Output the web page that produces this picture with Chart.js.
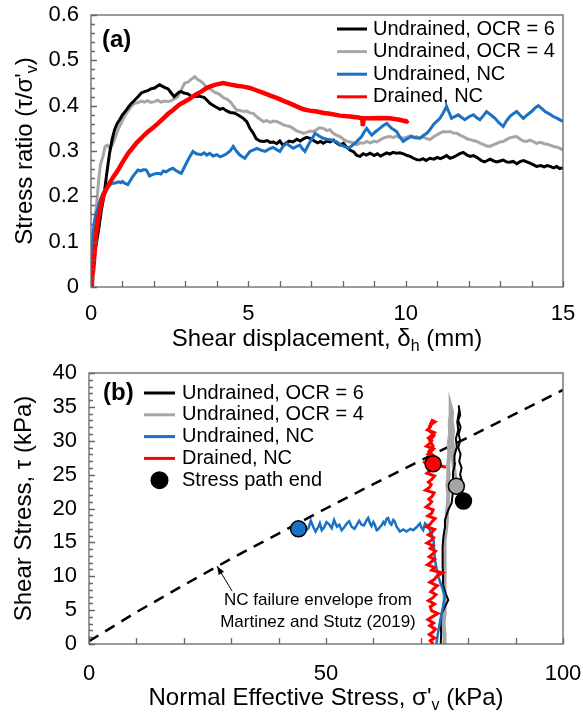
<!DOCTYPE html>
<html>
<head>
<meta charset="utf-8">
<script src="https://cdn.jsdelivr.net/npm/chart.js@4.4.0/dist/chart.umd.min.js"></script>
<style>
    html, body { margin: 0; padding: 0; background: #fff; }
    #wrap { position: relative; width: 583px; height: 713px; }
    .panel { position: absolute; left: 0; width: 583px; }
    #panelA { top: 0; height: 355px; }
    #panelB { top: 355px; height: 358px; }
</style>
</head>
<body>
<div id="wrap">
    <div class="panel" id="panelA"><canvas id="chartA"></canvas></div>
    <div class="panel" id="panelB"><canvas id="chartB"></canvas></div>
</div>
<script>
// ============================================
// (a) stress ratio vs shear displacement
// (b) stress paths, shear stress vs normal effective stress
// values
// ============================================

// --- panel (a): [displacement mm, tau/sigma'v] ---
const ocr6Curve = [[0,0],[0.05,0.04],[0.1,0.075],[0.17,0.096],[0.25,0.13],[0.33,0.17],[0.41,0.2],[0.5,0.25],[0.59,0.295],[0.67,0.325],[0.75,0.347],[0.83,0.36],[0.91,0.369],[1.0,0.38],[1.12,0.39],[1.2,0.398],[1.28,0.405],[1.4,0.413],[1.5,0.42],[1.6,0.428],[1.7,0.431],[1.8,0.433],[1.9,0.437],[2.02,0.439],[2.1,0.443],[2.18,0.446],[2.26,0.443],[2.35,0.44],[2.45,0.437],[2.55,0.428],[2.64,0.42],[2.72,0.425],[2.8,0.43],[2.87,0.431],[2.95,0.428],[3.08,0.426],[3.2,0.42],[3.3,0.42],[3.45,0.421],[3.6,0.418],[3.78,0.405],[3.9,0.4],[4.0,0.396],[4.1,0.392],[4.2,0.394],[4.3,0.389],[4.42,0.385],[4.55,0.384],[4.63,0.381],[4.75,0.376],[4.84,0.372],[4.95,0.365],[5.05,0.35],[5.15,0.34],[5.25,0.327],[5.37,0.322],[5.5,0.321],[5.6,0.323],[5.69,0.319],[5.8,0.32],[5.9,0.316],[6.0,0.322],[6.11,0.312],[6.2,0.318],[6.3,0.322],[6.42,0.32],[6.54,0.326],[6.65,0.322],[6.75,0.327],[6.85,0.33],[6.96,0.328],[7.1,0.322],[7.2,0.318],[7.3,0.321],[7.38,0.317],[7.5,0.322],[7.6,0.32],[7.7,0.324],[7.8,0.318],[7.91,0.313],[8.02,0.317],[8.1,0.31],[8.23,0.302],[8.35,0.298],[8.45,0.29],[8.55,0.288],[8.65,0.294],[8.75,0.291],[8.87,0.295],[9.0,0.29],[9.1,0.294],[9.2,0.289],[9.29,0.292],[9.4,0.296],[9.5,0.293],[9.6,0.297],[9.71,0.295],[9.82,0.296],[9.95,0.293],[10.05,0.29],[10.14,0.288],[10.25,0.284],[10.35,0.281],[10.45,0.28],[10.55,0.283],[10.65,0.279],[10.77,0.284],[10.9,0.282],[11.0,0.286],[11.1,0.283],[11.2,0.286],[11.3,0.29],[11.41,0.284],[11.5,0.286],[11.62,0.29],[11.72,0.294],[11.83,0.297],[11.95,0.291],[12.05,0.288],[12.15,0.29],[12.26,0.286],[12.4,0.279],[12.5,0.276],[12.6,0.279],[12.68,0.282],[12.8,0.278],[12.9,0.276],[13.0,0.278],[13.1,0.28],[13.2,0.276],[13.3,0.275],[13.42,0.277],[13.53,0.272],[13.65,0.277],[13.75,0.279],[13.85,0.276],[13.95,0.273],[14.05,0.27],[14.16,0.266],[14.3,0.268],[14.4,0.265],[14.5,0.268],[14.59,0.266],[14.7,0.263],[14.8,0.266],[14.9,0.261],[15.0,0.263]];

const ocr4Curve = [[0,0],[0.04,0.05],[0.08,0.09],[0.1,0.111],[0.15,0.16],[0.2,0.2],[0.25,0.24],[0.3,0.27],[0.38,0.288],[0.45,0.31],[0.52,0.313],[0.58,0.308],[0.65,0.31],[0.72,0.32],[0.8,0.336],[0.86,0.347],[0.95,0.36],[1.05,0.375],[1.12,0.383],[1.2,0.39],[1.3,0.4],[1.39,0.405],[1.5,0.407],[1.6,0.41],[1.7,0.408],[1.8,0.411],[1.9,0.407],[2.02,0.409],[2.12,0.412],[2.22,0.408],[2.35,0.41],[2.45,0.409],[2.55,0.411],[2.65,0.415],[2.76,0.42],[2.85,0.432],[2.92,0.442],[2.98,0.45],[3.08,0.452],[3.18,0.458],[3.3,0.464],[3.38,0.458],[3.46,0.455],[3.56,0.45],[3.65,0.442],[3.72,0.44],[3.82,0.435],[3.92,0.43],[4.0,0.428],[4.1,0.424],[4.2,0.418],[4.3,0.415],[4.42,0.409],[4.52,0.4],[4.63,0.39],[4.72,0.39],[4.84,0.387],[4.95,0.388],[5.05,0.384],[5.16,0.383],[5.26,0.376],[5.37,0.37],[5.48,0.365],[5.58,0.367],[5.7,0.363],[5.8,0.366],[5.9,0.365],[6.0,0.362],[6.1,0.358],[6.2,0.356],[6.32,0.354],[6.42,0.35],[6.54,0.344],[6.65,0.342],[6.75,0.339],[6.85,0.341],[6.96,0.344],[7.06,0.343],[7.15,0.346],[7.25,0.351],[7.38,0.35],[7.5,0.345],[7.59,0.347],[7.7,0.339],[7.8,0.335],[7.91,0.332],[8.0,0.327],[8.1,0.322],[8.23,0.32],[8.35,0.318],[8.45,0.314],[8.55,0.318],[8.65,0.317],[8.77,0.321],[8.88,0.318],[9.0,0.322],[9.08,0.32],[9.2,0.325],[9.3,0.329],[9.4,0.331],[9.5,0.332],[9.6,0.33],[9.72,0.333],[9.82,0.329],[9.92,0.328],[10.05,0.331],[10.15,0.334],[10.25,0.33],[10.35,0.332],[10.45,0.328],[10.55,0.331],[10.65,0.328],[10.77,0.325],[10.88,0.331],[11.0,0.336],[11.1,0.34],[11.2,0.343],[11.3,0.342],[11.41,0.343],[11.5,0.34],[11.62,0.339],[11.72,0.335],[11.83,0.332],[11.95,0.327],[12.05,0.325],[12.15,0.323],[12.26,0.321],[12.38,0.317],[12.48,0.314],[12.58,0.311],[12.68,0.31],[12.8,0.314],[12.9,0.317],[13.0,0.32],[13.1,0.321],[13.2,0.325],[13.3,0.329],[13.42,0.331],[13.53,0.332],[13.62,0.327],[13.74,0.322],[13.85,0.321],[13.95,0.324],[14.05,0.321],[14.16,0.317],[14.28,0.319],[14.4,0.316],[14.5,0.315],[14.59,0.313],[14.7,0.31],[14.8,0.309],[14.9,0.306],[15.0,0.302]];

const ncUndrainedCurve = [[0,0],[0.03,0.06],[0.06,0.111],[0.1,0.14],[0.15,0.16],[0.2,0.17],[0.28,0.19],[0.38,0.207],[0.45,0.215],[0.55,0.222],[0.62,0.226],[0.7,0.229],[0.8,0.23],[0.88,0.232],[0.95,0.23],[1.0,0.233],[1.07,0.229],[1.17,0.226],[1.25,0.235],[1.33,0.244],[1.4,0.25],[1.49,0.258],[1.58,0.256],[1.68,0.259],[1.76,0.258],[1.86,0.245],[1.95,0.248],[2.05,0.25],[2.13,0.251],[2.22,0.249],[2.3,0.256],[2.39,0.254],[2.5,0.259],[2.6,0.262],[2.7,0.257],[2.8,0.253],[2.87,0.251],[2.95,0.262],[3.03,0.273],[3.12,0.285],[3.24,0.299],[3.35,0.294],[3.5,0.292],[3.6,0.296],[3.68,0.291],[3.77,0.295],[3.88,0.289],[4.0,0.292],[4.1,0.287],[4.2,0.29],[4.31,0.294],[4.42,0.3],[4.52,0.31],[4.62,0.3],[4.73,0.291],[4.82,0.287],[4.89,0.284],[4.97,0.292],[5.05,0.299],[5.15,0.302],[5.27,0.306],[5.4,0.302],[5.53,0.299],[5.65,0.304],[5.79,0.308],[5.9,0.303],[6.0,0.299],[6.1,0.31],[6.22,0.317],[6.32,0.311],[6.43,0.306],[6.54,0.31],[6.64,0.313],[6.72,0.305],[6.8,0.299],[6.88,0.31],[6.96,0.32],[7.05,0.33],[7.12,0.339],[7.25,0.333],[7.38,0.328],[7.5,0.326],[7.6,0.325],[7.72,0.322],[7.81,0.32],[7.95,0.313],[8.08,0.309],[8.18,0.306],[8.28,0.311],[8.39,0.317],[8.5,0.325],[8.6,0.332],[8.68,0.342],[8.76,0.35],[8.84,0.342],[8.92,0.335],[9.05,0.343],[9.18,0.35],[9.28,0.356],[9.4,0.361],[9.48,0.355],[9.55,0.35],[9.63,0.347],[9.71,0.343],[9.8,0.333],[9.92,0.321],[10.05,0.327],[10.19,0.332],[10.3,0.329],[10.45,0.328],[10.56,0.334],[10.67,0.339],[10.78,0.348],[10.88,0.358],[10.98,0.365],[11.09,0.372],[11.2,0.385],[11.3,0.398],[11.38,0.385],[11.46,0.372],[11.56,0.376],[11.67,0.38],[11.78,0.374],[11.88,0.369],[12.0,0.375],[12.15,0.38],[12.25,0.374],[12.36,0.369],[12.47,0.378],[12.57,0.387],[12.7,0.38],[12.84,0.372],[12.97,0.362],[13.1,0.354],[13.2,0.366],[13.31,0.376],[13.42,0.382],[13.53,0.387],[13.64,0.379],[13.74,0.372],[13.87,0.38],[14.0,0.387],[14.1,0.394],[14.21,0.4],[14.32,0.394],[14.43,0.387],[14.56,0.382],[14.69,0.376],[14.82,0.372],[14.92,0.368],[15.0,0.365]];

const drainedCurve = [[0,0],[0.03,0.02],[0.07,0.0375],[0.12,0.08],[0.17,0.12],[0.22,0.148],[0.3,0.175],[0.38,0.2],[0.48,0.215],[0.59,0.229],[0.72,0.244],[0.86,0.258],[1.0,0.275],[1.18,0.295],[1.3,0.305],[1.45,0.318],[1.65,0.332],[1.8,0.342],[1.95,0.35],[2.13,0.361],[2.3,0.372],[2.45,0.382],[2.6,0.39],[2.8,0.402],[3.08,0.413],[3.3,0.423],[3.5,0.431],[3.7,0.44],[3.93,0.446],[4.2,0.45],[4.4,0.447],[4.63,0.444],[4.85,0.442],[5.05,0.439],[5.25,0.434],[5.48,0.428],[5.7,0.422],[5.9,0.417],[6.1,0.411],[6.32,0.405],[6.55,0.398],[6.75,0.392],[6.95,0.389],[7.17,0.387],[7.4,0.384],[7.6,0.382],[7.91,0.378],[8.23,0.376],[8.5,0.374],[8.62,0.372],[8.64,0.355],[8.66,0.372],[8.87,0.372],[9.2,0.373],[9.5,0.372],[9.8,0.369],[10.03,0.365],[10.08,0.368]];

// --- panel (b): [sigma'v kPa, tau kPa] ---
const ocr6Path = [[74.2,0],[74.3,1.5],[74.2,3.0],[74.4,4.5],[75.1,5.5],[75.8,6.5],[75.2,7.5],[74.8,8.5],[74.7,10.0],[74.6,11.5],[74.6,13.0],[74.6,14.4],[74.8,16.0],[75.1,17.3],[75.1,18.3],[75.8,19.8],[76.5,20.8],[76.7,22.0],[76.9,24.2],[76.8,25.4],[77.2,26.6],[77.1,27.8],[77.6,29.1],[77.4,30.3],[77.9,31.6],[77.7,32.8],[78.1,34.5],[78.0,35.2],[78.3,33.8],[77.9,33.0],[78.4,32.0],[78.0,31.0],[78.3,30.0],[77.9,29.0],[78.4,28.0],[78.1,27.0],[78.6,26.0],[78.3,25.0],[78.7,24.0],[78.5,23.0],[79.0,22.0],[79.0,21.1]];

const ocr4Path = [[74.9,0],[75.0,1.5],[74.8,3.0],[75.0,4.5],[74.9,6.0],[74.9,7.5],[75.0,9.4],[75.1,11.0],[75.0,12.6],[75.1,14.0],[75.1,15.3],[75.3,16.8],[75.5,18.2],[75.5,19.3],[75.7,20.7],[75.8,22.2],[75.6,23.5],[75.9,25.0],[75.8,26.6],[76.0,28.0],[75.9,29.5],[76.2,31.1],[76.1,32.5],[76.3,33.8],[76.3,35.0],[76.6,34.2],[76.5,33.0],[76.8,31.5],[76.6,30.0],[76.9,28.5],[76.8,27.0],[77.1,25.5],[77.3,24.2],[77.5,23.3]];

const ncUndrainedPath = [[73.3,0],[73.6,1.5],[74.1,3.5],[74.6,5.2],[75.1,7.0],[74.4,8.5],[73.7,9.9],[73.3,11.2],[73.0,12.4],[72.8,14.0],[72.7,15.3],[72.3,16.2],[71.9,16.8],[71.2,17.6],[70.9,17.8],[70.5,16.8],[70.1,17.2],[69.8,17.8],[69.2,17.3],[68.4,16.8],[67.8,17.0],[67.0,16.6],[66.3,16.9],[65.6,16.6],[64.9,17.3],[64.5,18.1],[64.2,18.3],[63.8,17.6],[63.5,17.8],[63.1,18.6],[62.8,18.5],[62.4,17.7],[62.1,18.0],[61.7,17.5],[61.4,17.3],[61.0,16.9],[60.7,16.8],[60.3,17.6],[60.0,18.0],[59.6,17.4],[59.3,17.8],[58.9,18.6],[58.6,18.3],[58.0,17.5],[57.5,17.6],[57.0,18.2],[56.5,17.6],[56.0,17.0],[55.4,17.3],[54.9,18.1],[54.4,17.8],[53.8,17.2],[53.3,16.8],[52.8,17.6],[52.3,17.3],[51.7,18.3],[51.2,17.1],[50.6,17.7],[50.1,18.0],[49.6,17.2],[49.1,16.8],[48.7,17.8],[48.4,17.3],[47.8,16.6],[47.3,17.3],[46.8,18.2],[46.3,17.1],[45.7,16.7],[45.2,16.8],[44.6,17.4],[44.2,16.9]];

const drainedPath = [[72.6,0],[72.0,0.5],[72.9,0.9],[71.8,1.4],[72.6,1.8],[73.1,2.2],[71.9,2.7],[72.7,3.1],[71.5,3.6],[72.4,4.0],[73.6,4.5],[72.3,4.9],[72.0,5.5],[72.9,5.9],[71.6,6.4],[72.5,6.8],[73.2,7.3],[72.1,7.7],[72.8,8.2],[73.5,8.6],[71.9,9.1],[72.8,9.5],[73.4,10.0],[74.6,10.5],[72.3,10.9],[72.9,11.3],[71.4,11.7],[72.2,12.1],[72.9,12.5],[71.8,12.9],[72.5,13.3],[73.1,13.7],[72.0,14.1],[72.6,14.5],[71.3,14.9],[72.2,15.3],[72.7,15.7],[71.6,16.1],[72.4,16.5],[72.9,16.9],[71.2,17.3],[72.0,17.7],[72.4,18.1],[73.0,18.5],[71.5,18.9],[72.3,19.3],[72.6,19.8],[71.1,20.2],[71.8,20.6],[72.3,21.0],[71.7,21.4],[72.4,21.8],[72.8,22.3],[71.0,22.7],[71.8,23.1],[72.2,23.5],[71.6,23.9],[72.3,24.3],[72.9,24.8],[71.3,25.2],[72.0,25.6],[72.1,26.0],[71.4,26.4],[70.8,26.8],[71.9,27.2],[72.4,27.6],[71.5,28.0],[72.1,28.4],[72.7,28.8],[71.2,29.2],[71.9,29.6],[72.3,30.0],[71.6,30.4],[72.4,30.8],[72.9,31.2],[71.4,31.6],[72.0,32.0],[72.2,32.4],[73.0,32.8],[72.4,33.0],[72.0,32.4],[71.6,31.6],[72.8,30.8],[71.9,30.0],[72.6,29.2],[71.7,28.4],[72.9,27.7],[72.2,27.1],[73.5,26.4],[75.3,26.1],[72.7,26.6]];

// end of each stress path: blue, red, grey, black
const pathEnds = [[44.2,17.0],[72.6,26.6],[77.5,23.3],[79.0,21.1]];

// NC failure envelope (Martinez and Stutz 2019)
const ncEnvelope = [[0,0.4],[10,4.7],[20,8.7],[30,12.6],[40,16.3],[50,20.0],[60,23.6],[70,27.1],[80,30.5],[90,34.0],[100,37.5]];

// tick labels shown
const xLabelsA = [0, 5, 10, 15];
const xLabelsB = [0, 50, 100];

const FONT = 'Arial, "Liberation Sans", sans-serif';
const C_BLACK = '#000000';
const C_GREY = '#a6a6a6';
const C_BLUE = '#1a72c4';
const C_RED = '#ff0000';
const C_AXIS = '#666666';

const toXY = pts => pts.map(p => ({ x: p[0], y: p[1] }));

function lineSet(label, pts, color, width, order) {
    return {
        label: label,
        data: toXY(pts),
        showLine: true,
        borderColor: color,
        backgroundColor: color,
        borderWidth: width,
        pointRadius: 0,
        tension: 0,
        order: order
    };
}

// fixed axis box sizes so the plot area lands where the figure has it
function fixX(h) {
    return s => { s.height = h; s.paddingLeft = 0; s.paddingRight = 0; };
}
function fixY(w) {
    return s => { s.width = w; s.paddingTop = 0; s.paddingBottom = 0; };
}

// draw a string with subscripts, centred on the current origin
function drawParts(ctx, parts, size) {
    const main = size + 'px ' + FONT;
    const sub = Math.round(size * 0.65) + 'px ' + FONT;
    let w = 0;
    parts.forEach(p => { ctx.font = p.sub ? sub : main; w += ctx.measureText(p.t).width; });
    let x = -w / 2;
    ctx.textAlign = 'left';
    ctx.textBaseline = 'middle';
    parts.forEach(p => {
        ctx.font = p.sub ? sub : main;
        ctx.fillText(p.t, x, p.sub ? size * 0.32 : 0);
        x += ctx.measureText(p.t).width;
    });
}

// box round the plot plus inward tick marks
const frameTicks = {
    id: 'frameTicks',
    afterDatasetsDraw(chart, args, o) {
        const { ctx, chartArea: a, scales } = chart;
        ctx.save();
        ctx.strokeStyle = C_AXIS;
        ctx.lineWidth = 1.3;
        ctx.strokeRect(a.left, a.top, a.right - a.left, a.bottom - a.top);
        ctx.beginPath();
        scales.x.ticks.forEach(t => {
            const px = Math.round(scales.x.getPixelForValue(t.value)) + 0.5;
            ctx.moveTo(px, a.bottom);
            ctx.lineTo(px, a.bottom - o.len);
        });
        scales.y.ticks.forEach(t => {
            const py = Math.round(scales.y.getPixelForValue(t.value)) + 0.5;
            ctx.moveTo(a.left, py);
            ctx.lineTo(a.left + o.len, py);
        });
        if (o.yMinor) {
            const n = Math.round((scales.y.max - scales.y.min) / o.yMinor);
            for (let i = 0; i <= n; i++) {
                const py = Math.round(scales.y.getPixelForValue(scales.y.min + i * o.yMinor)) + 0.5;
                ctx.moveTo(a.left, py);
                ctx.lineTo(a.left + o.minorLen, py);
            }
        }
        ctx.stroke();
        ctx.restore();
    }
};

// legend drawn inside the plot with line samples
const lineLegend = {
    id: 'lineLegend',
    afterDraw(chart, args, o) {
        const ctx = chart.ctx;
        ctx.save();
        ctx.font = o.size + 'px ' + FONT;
        ctx.textAlign = 'left';
        ctx.textBaseline = 'middle';
        o.items.forEach((idx, i) => {
            const ds = chart.data.datasets[idx];
            const y = o.top + i * o.rowH;
            if (ds.showLine) {
                ctx.strokeStyle = ds.borderColor;
                ctx.lineWidth = 3;
                ctx.beginPath();
                ctx.moveTo(o.left, y);
                ctx.lineTo(o.left + o.sampleW, y);
                ctx.stroke();
            } else {
                ctx.fillStyle = C_BLACK;
                ctx.beginPath();
                ctx.arc(o.left + o.sampleW / 2, y, 9, 0, Math.PI * 2);
                ctx.fill();
            }
            ctx.fillStyle = '#000';
            ctx.fillText(ds.label, o.left + o.sampleW + o.gap, y);
        });
        ctx.restore();
    }
};

// axis titles (need subscripts) and the (a)/(b) tag
const axisTitles = {
    id: 'axisTitles',
    afterDraw(chart, args, o) {
        const { ctx, chartArea: a } = chart;
        ctx.save();
        ctx.fillStyle = '#000';
        ctx.translate((a.left + a.right) / 2, o.xTitleY);
        drawParts(ctx, o.xTitle, o.size);
        ctx.restore();
        ctx.save();
        ctx.fillStyle = '#000';
        ctx.translate(o.yTitleX, (a.top + a.bottom) / 2);
        ctx.rotate(-Math.PI / 2);
        drawParts(ctx, o.yTitle, o.size);
        ctx.restore();
        ctx.save();
        ctx.fillStyle = '#000';
        ctx.font = 'bold 24px ' + FONT;
        ctx.textAlign = 'left';
        ctx.textBaseline = 'middle';
        ctx.fillText(o.tag, o.tagX, o.tagY);
        ctx.restore();
    }
};

// note + arrow pointing at the envelope in (b)
const envelopeNote = {
    id: 'envelopeNote',
    afterDraw(chart, args, o) {
        if (!o.lines) return;
        const { ctx, scales } = chart;
        const tx = scales.x.getPixelForValue(o.arrowTo[0]), ty = scales.y.getPixelForValue(o.arrowTo[1]);
        const fx = scales.x.getPixelForValue(o.arrowFrom[0]), fy = scales.y.getPixelForValue(o.arrowFrom[1]);
        ctx.save();
        ctx.strokeStyle = '#000';
        ctx.fillStyle = '#000';
        ctx.lineWidth = 1;
        ctx.beginPath();
        ctx.moveTo(fx, fy);
        ctx.lineTo(tx, ty);
        ctx.stroke();
        const ang = Math.atan2(ty - fy, tx - fx);
        ctx.beginPath();
        ctx.moveTo(tx, ty);
        ctx.lineTo(tx - 9 * Math.cos(ang - 0.35), ty - 9 * Math.sin(ang - 0.35));
        ctx.lineTo(tx - 9 * Math.cos(ang + 0.35), ty - 9 * Math.sin(ang + 0.35));
        ctx.closePath();
        ctx.fill();
        ctx.font = o.size + 'px ' + FONT;
        ctx.textAlign = 'center';
        ctx.textBaseline = 'middle';
        const cx = scales.x.getPixelForValue(o.textAt[0]);
        const cy = scales.y.getPixelForValue(o.textAt[1]);
        o.lines.forEach((s, i) => ctx.fillText(s, cx, cy + i * o.lineH));
        ctx.restore();
    }
};

const tickFont = { family: FONT, size: 22 };

// ---------- chart (a) ----------
new Chart(document.getElementById('chartA').getContext('2d'), {
    type: 'scatter',
    data: {
        datasets: [
            lineSet('Undrained, OCR = 6', ocr6Curve, C_BLACK, 3, 2),
            lineSet('Undrained, OCR = 4', ocr4Curve, C_GREY, 3, 3),
            lineSet('Undrained, NC', ncUndrainedCurve, C_BLUE, 3, 1),
            lineSet('Drained, NC', drainedCurve, C_RED, 4.5, 0)
        ]
    },
    options: {
        responsive: true,
        maintainAspectRatio: false,
        animation: false,
        devicePixelRatio: 1,
        layout: { padding: { top: 15, right: 20, left: 0, bottom: 0 } },
        scales: {
            x: {
                type: 'linear', min: 0, max: 15,
                afterFit: fixX(68),
                grid: { display: false, drawTicks: false },
                border: { display: false },
                ticks: {
                    stepSize: 1, autoSkip: false, maxRotation: 0, padding: 14,
                    color: '#000', font: tickFont,
                    callback: v => xLabelsA.includes(v) ? String(v) : ''
                }
            },
            y: {
                type: 'linear', min: 0, max: 0.6,
                afterFit: fixY(91),
                grid: { display: false, drawTicks: false },
                border: { display: false },
                ticks: {
                    stepSize: 0.1, padding: 12, color: '#000', font: tickFont,
                    callback: v => String(Math.round(v * 10) / 10)
                }
            }
        },
        plugins: {
            legend: { display: false },
            tooltip: { enabled: false },
            frameTicks: { len: 6, yMinor: 0.02, minorLen: 4 },
            lineLegend: { items: [0, 1, 2, 3], left: 337, top: 29, rowH: 22.6, sampleW: 30, gap: 6, size: 20 },
            axisTitles: {
                size: 24, xTitleY: 339, yTitleX: 25, tag: '(a)', tagX: 102, tagY: 40,
                xTitle: [{ t: 'Shear displacement, δ' }, { t: 'h', sub: true }, { t: ' (mm)' }],
                yTitle: [{ t: "Stress ratio (τ/σ'" }, { t: 'v', sub: true }, { t: ')' }]
            }
        }
    },
    plugins: [frameTicks, lineLegend, axisTitles]
});

// ---------- chart (b) ----------
new Chart(document.getElementById('chartB').getContext('2d'), {
    type: 'scatter',
    data: {
        datasets: [
            lineSet('Undrained, OCR = 6', ocr6Path, C_BLACK, 2, 3),
            lineSet('Undrained, OCR = 4', ocr4Path, C_GREY, 4, 4),
            lineSet('Undrained, NC', ncUndrainedPath, C_BLUE, 2.5, 2),
            lineSet('Drained, NC', drainedPath, C_RED, 3, 1),
            {
                label: 'Stress path end',
                data: toXY(pathEnds),
                showLine: false,
                pointRadius: 8,
                pointBorderWidth: 1.5,
                pointBorderColor: C_BLACK,
                pointBackgroundColor: [C_BLUE, C_RED, C_GREY, C_BLACK],
                order: 0
            },
            Object.assign(lineSet('', ncEnvelope, C_BLACK, 2.5, 5), { borderDash: [11, 8] })
        ]
    },
    options: {
        responsive: true,
        maintainAspectRatio: false,
        animation: false,
        devicePixelRatio: 1,
        layout: { padding: { top: 18, right: 20, left: 0, bottom: 0 } },
        scales: {
            x: {
                type: 'linear', min: 0, max: 100,
                afterFit: fixX(69),
                grid: { display: false, drawTicks: false },
                border: { display: false },
                ticks: {
                    stepSize: 10, autoSkip: false, maxRotation: 0, padding: 17,
                    color: '#000', font: tickFont,
                    callback: v => xLabelsB.includes(v) ? String(v) : ''
                }
            },
            y: {
                type: 'linear', min: 0, max: 40,
                afterFit: fixY(89),
                grid: { display: false, drawTicks: false },
                border: { display: false },
                ticks: { stepSize: 5, padding: 12, color: '#000', font: tickFont }
            }
        },
        plugins: {
            legend: { display: false },
            tooltip: { enabled: false },
            frameTicks: { len: 6, yMinor: 1, minorLen: 4 },
            lineLegend: { items: [0, 1, 2, 3, 4], left: 144, top: 38, rowH: 21.8, sampleW: 31, gap: 7, size: 20 },
            axisTitles: {
                size: 24, xTitleY: 343, yTitleX: 24, tag: '(b)', tagX: 103, tagY: 38,
                xTitle: [{ t: "Normal Effective Stress, σ'" }, { t: 'v', sub: true }, { t: ' (kPa)' }],
                yTitle: [{ t: 'Shear Stress, τ (kPa)' }]
            },
            envelopeNote: {
                arrowTo: [27, 11.5], arrowFrom: [30.2, 7.8], textAt: [48.3, 6.5], lineH: 22, size: 17,
                lines: ['NC failure envelope from', 'Martinez and Stutz (2019)']
            }
        }
    },
    plugins: [frameTicks, lineLegend, axisTitles, envelopeNote]
});
</script>
</body>
</html>
